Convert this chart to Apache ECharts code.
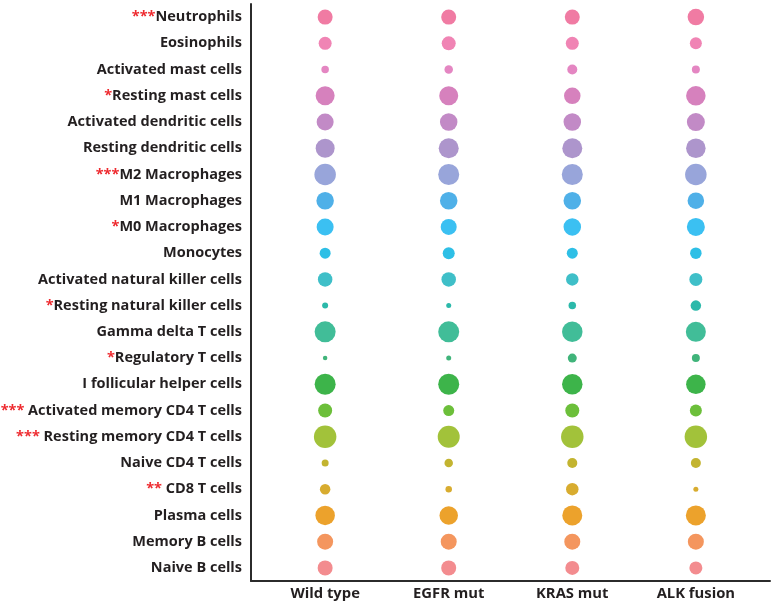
<!DOCTYPE html>
<html>
<head>
<meta charset="utf-8">
<script src="https://cdn.jsdelivr.net/npm/echarts@6/dist/echarts.min.js"></script>
<style>html,body{margin:0;padding:0;background:#fff;}#c{width:773px;height:604px;}</style>
</head>
<body>
<div id="c"></div>
<script>
const groups = ['Wild type', 'EGFR mut', 'KRAS mut', 'ALK fusion'];
const cells = ['Neutrophils', 'Eosinophils', 'Activated mast cells', 'Resting mast cells',
  'Activated dendritic cells', 'Resting dendritic cells', 'M2 Macrophages', 'M1 Macrophages',
  'M0 Macrophages', 'Monocytes', 'Activated natural killer cells', 'Resting natural killer cells',
  'Gamma delta T cells', 'Regulatory T cells', 'I follicular helper cells',
  'Activated memory CD4 T cells', 'Resting memory CD4 T cells', 'Naive CD4 T cells',
  'CD8 T cells', 'Plasma cells', 'Memory B cells', 'Naive B cells'];
const stars = ['***', '', '', '*', '', '', '***', '', '*', '', '', '*', '', '*', '',
  '*** ', '*** ', '', '** ', '', '', ''];
const cellColors = ['#f07ba3', '#f084b4', '#e486c2', '#d681bd', '#c28ac6', '#ad95cc', '#98a5da',
  '#4fb0e8', '#3bc0f2', '#2ebfe6', '#3fbfc8', '#2bb9aa', '#41bd98', '#40b47a', '#3db44a',
  '#6cbf3a', '#a2c23a', '#c3b430', '#d8ac2f', '#eca22c', '#f4965e', '#f38c8f'];
// bubble sizes per cell type (rows) for each group
const wildType = [15, 13, 7.5, 19, 17, 19, 21.5, 17.5, 17, 11, 14.5, 6, 21, 4.5, 21, 14, 22.5, 7, 10.5, 19.5, 16, 15];
const egfrMut  = [15, 14, 8.5, 19, 17.5, 20, 21, 17.5, 16, 12, 14.5, 5, 21, 5, 21, 11, 22, 8.5, 6.5, 18.5, 16, 15];
const krasMut  = [15, 13, 10, 16.5, 17.5, 20, 21, 17.5, 17.5, 11, 12.5, 7.5, 20.5, 9, 20.5, 14, 22.5, 10, 12.5, 20, 16, 14];
const alkFusion= [16.5, 12, 8, 19.5, 18, 19.5, 21.5, 16.5, 18, 11.5, 13, 10.5, 20, 8, 19.5, 12, 22.5, 10, 5, 20, 16, 13];

const sizes = [wildType, egfrMut, krasMut, alkFusion];
const data = [];
sizes.forEach((arr, g) => {
  arr.forEach((s, r) => {
    data.push({ value: [g, r, s], itemStyle: { color: cellColors[r] } });
  });
});

const FONT = 'Open Sans';
const chart = echarts.init(document.getElementById('c'));
chart.setOption({
  animation: false,
  backgroundColor: '#fff',
  grid: { left: 251, right: 3, top: 4, bottom: 23, containLabel: false, outerBoundsMode: 'none' },
  xAxis: {
    type: 'value', min: -0.6, max: 3.6,
    splitLine: { show: false },
    axisLine: { show: true, onZero: false, lineStyle: { color: '#2b2b2b', width: 2 } },
    axisTick: { show: false },
    axisLabel: {
      customValues: [0, 1, 2, 3],
      formatter: v => groups[Math.round(v)],
      color: '#231f20', fontFamily: FONT, fontWeight: 'bold', fontSize: 14.8, margin: 5
    }
  },
  yAxis: {
    type: 'category', data: cells, inverse: true, boundaryGap: true,
    splitLine: { show: false },
    axisLine: { show: true, onZero: false, lineStyle: { color: '#2b2b2b', width: 2 } },
    axisTick: { show: false },
    axisLabel: {
      margin: 9,
      formatter: (v, i) => stars[i] ? '{s|' + stars[i] + '}{n|' + v + '}' : '{n|' + v + '}',
      rich: {
        s: { color: '#ee2a2f', fontFamily: FONT, fontWeight: 'bold', fontSize: 14.5 },
        n: { color: '#231f20', fontFamily: FONT, fontWeight: 'bold', fontSize: 14.5 }
      }
    }
  },
  series: [{
    type: 'scatter',
    data: data,
    symbolSize: d => d[2],
    itemStyle: { opacity: 1 }
  }]
});
</script>
</body>
</html>
